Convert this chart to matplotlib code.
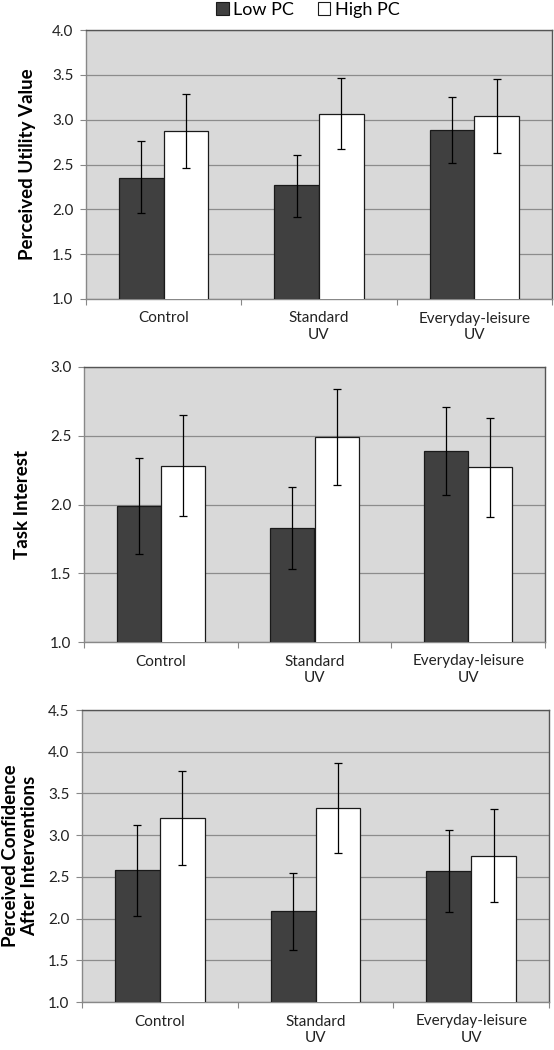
import matplotlib
matplotlib.use("Agg")
import matplotlib.pyplot as plt
from matplotlib.patches import Patch
import numpy as np

plt.rcParams['font.family'] = ['Lato', 'DejaVu Sans']

categories = ["Control", "Standard\nUV", "Everyday-leisure\nUV"]
series_names = ["Low PC", "High PC"]

# Panel 1: Perceived Utility Value
uv_low = [2.35, 2.27, 2.89]
uv_low_err_hi = [2.76, 2.61, 3.25]
uv_low_err_lo = [1.96, 1.92, 2.52]
uv_high = [2.87, 3.06, 3.04]
uv_high_err_hi = [3.29, 3.46, 3.45]
uv_high_err_lo = [2.46, 2.67, 2.63]

# Panel 2: Task Interest
ti_low = [1.99, 1.83, 2.39]
ti_low_err_hi = [2.34, 2.13, 2.71]
ti_low_err_lo = [1.64, 1.53, 2.07]
ti_high = [2.28, 2.49, 2.27]
ti_high_err_hi = [2.65, 2.84, 2.63]
ti_high_err_lo = [1.92, 2.14, 1.91]

# Panel 3: Perceived Confidence After Interventions
pc_low = [2.58, 2.09, 2.57]
pc_low_err_hi = [3.12, 2.55, 3.06]
pc_low_err_lo = [2.03, 1.62, 2.08]
pc_high = [3.20, 3.32, 2.75]
pc_high_err_hi = [3.77, 3.86, 3.31]
pc_high_err_lo = [2.64, 2.78, 2.20]

panels = [
    dict(low=uv_low, lhi=uv_low_err_hi, llo=uv_low_err_lo,
         high=uv_high, hhi=uv_high_err_hi, hlo=uv_high_err_lo,
         ylim=(1.0, 4.0), yticks=[1.0, 1.5, 2.0, 2.5, 3.0, 3.5, 4.0],
         ylabel="Perceived Utility Value", xlab=28,
         rect_px=(86, 30, 552, 299)),
    dict(low=ti_low, lhi=ti_low_err_hi, llo=ti_low_err_lo,
         high=ti_high, hhi=ti_high_err_hi, hlo=ti_high_err_lo,
         ylim=(1.0, 3.0), yticks=[1.0, 1.5, 2.0, 2.5, 3.0],
         ylabel="Task Interest", xlab=23,
         rect_px=(84, 367, 545, 642)),
    dict(low=pc_low, lhi=pc_low_err_hi, llo=pc_low_err_lo,
         high=pc_high, hhi=pc_high_err_hi, hlo=pc_high_err_lo,
         ylim=(1.0, 4.5), yticks=[1.0, 1.5, 2.0, 2.5, 3.0, 3.5, 4.0, 4.5],
         ylabel="Perceived Confidence\nAfter Interventions", xlab=20,
         rect_px=(82, 710, 549, 1002)),
]

W, H = 554, 1050
fig = plt.figure(figsize=(W / 100, H / 100), dpi=100)

low_color = "#404040"
high_color = "#ffffff"
bg = "#d9d9d9"
bw = 0.287

for p in panels:
    x0, y0, x1, y1 = p["rect_px"]
    ax = fig.add_axes([x0 / W, 1 - y1 / H, (x1 - x0) / W, (y1 - y0) / H])
    ax.set_facecolor(bg)
    x = np.arange(len(categories))
    low = np.array(p["low"]); high = np.array(p["high"])
    ax.bar(x - bw / 2, low, bw, bottom=0, color=low_color, edgecolor="#1a1a1a",
           linewidth=0.9, zorder=3)
    ax.bar(x + bw / 2, high, bw, bottom=0, color=high_color, edgecolor="#1a1a1a",
           linewidth=0.9, zorder=3)
    ax.errorbar(x - bw / 2, low,
                yerr=[low - np.array(p["llo"]), np.array(p["lhi"]) - low],
                fmt="none", ecolor="black", elinewidth=0.9, capsize=3,
                capthick=0.9, zorder=4)
    ax.errorbar(x + bw / 2, high,
                yerr=[high - np.array(p["hlo"]), np.array(p["hhi"]) - high],
                fmt="none", ecolor="black", elinewidth=0.9, capsize=3,
                capthick=0.9, zorder=4)
    ax.set_ylim(*p["ylim"])
    ax.set_xlim(-0.5, len(categories) - 0.5)
    ax.set_yticks(p["yticks"])
    ax.set_yticklabels([f"{v:.1f}" for v in p["yticks"]], fontsize=11, color="#222222")
    ax.yaxis.grid(True, color="#8c8c8c", linewidth=0.9, zorder=1)
    ax.set_axisbelow(True)
    ax.set_xticks(np.arange(-0.5, len(categories)), minor=False)
    ax.set_xticklabels([])
    ax.set_xticks(x, minor=True)
    ax.set_xticklabels(categories, minor=True, fontsize=11, color="#222222",
                       linespacing=1.2)
    ax.tick_params(axis="x", which="minor", length=0, pad=9)
    ax.tick_params(axis="x", which="major", length=4, color="#888888", direction="out")
    ax.tick_params(axis="y", length=4, color="#888888", direction="out", pad=5)
    for s in ["top", "right"]:
        ax.spines[s].set_color("#555555")
        ax.spines[s].set_linewidth(1.0)
    for s in ["left", "bottom"]:
        ax.spines[s].set_color("#888888")
        ax.spines[s].set_linewidth(1.0)
    cy = 1 - (y0 + y1) / 2 / H
    fig.text(p["xlab"] / W, cy, p["ylabel"], rotation=90, ha="center", va="center",
             fontsize=13.5, fontweight="bold", linespacing=1.1)

handles = [Patch(facecolor=low_color, edgecolor="#1a1a1a", linewidth=0.8),
           Patch(facecolor=high_color, edgecolor="#1a1a1a", linewidth=0.8)]
fig.legend(handles, series_names, loc="center", bbox_to_anchor=(308 / W, 1 - 10 / H),
           ncol=2, frameon=False, fontsize=13, handlelength=0.7, handleheight=0.7,
           handletextpad=0.25, columnspacing=1.3, borderpad=0)

fig.savefig("out.png", dpi=100)
